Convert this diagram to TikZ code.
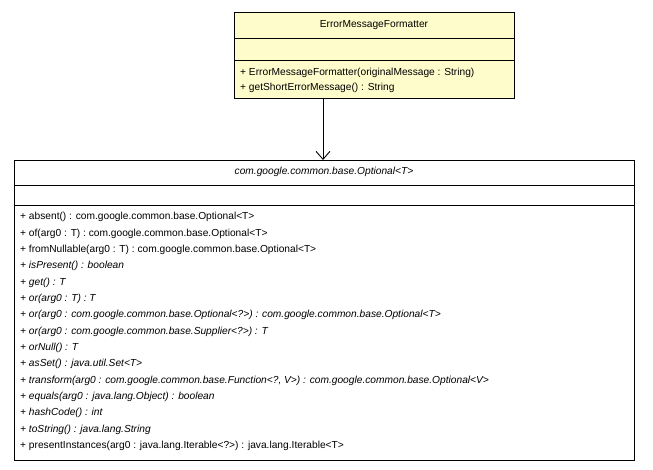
\documentclass[tikz,border=0pt]{standalone}
\usepackage{fontspec}
\setmainfont{Liberation Sans}
\usetikzlibrary{positioning,arrows.meta}
\tikzset{
  box/.style={draw=black,line width=0.8pt,anchor=north west},
  mline/.style={anchor=west,inner sep=0pt,font=\fontsize{10.2}{12}\selectfont},
  uses/.style={-{Straight Barb[length=8pt,width=14pt]},line width=0.9pt}
}
\begin{document}
\begin{tikzpicture}[x=1pt,y=-1pt]
  \useasboundingbox (0,0) rectangle (653,469);
  % upper class
  \fill[fill=yellow!20!white] (234,12) rectangle (514,98);
  \draw[line width=0.8pt] (234,12) rectangle (514,98);
  \draw[line width=0.8pt] (234,38) -- (514,38) (234,60) -- (514,60);
  \node[mline,anchor=center] (fmt) at (374,25) {ErrorMessageFormatter};
  \node[mline] (f1) at (240,73) {+ ErrorMessageFormatter(originalMessage : String)};
  \node[mline] (f2) at (240,88) {+ getShortErrorMessage() : String};
  \coordinate (fmtbot) at (323,98);
  % lower class
  \fill[white] (14,160) rectangle (634,460);
  \draw[line width=0.8pt] (14,160) rectangle (634,460);
  \draw[line width=0.8pt] (14,185) -- (634,185) (14,205) -- (634,205);
  \node[mline,anchor=center] (opt) at (324,172) {\itshape com.google.common.base.Optional<T>};
  \coordinate (opttop) at (323,160);
  \foreach \t [count=\i] in {
    {+ absent() : com.google.common.base.Optional<T>},
    {+ of(arg0 : T) : com.google.common.base.Optional<T>},
    {+ fromNullable(arg0 : T) : com.google.common.base.Optional<T>},
    {\itshape + isPresent() : boolean},
    {\itshape + get() : T},
    {\itshape + or(arg0 : T) : T},
    {\itshape + or(arg0 : com.google.common.base.Optional<?>) : com.google.common.base.Optional<T>},
    {\itshape + or(arg0 : com.google.common.base.Supplier<?>) : T},
    {\itshape + orNull() : T},
    {\itshape + asSet() : java.util.Set<T>},
    {\itshape + transform(arg0 : com.google.common.base.Function<?, V>) : com.google.common.base.Optional<V>},
    {\itshape + equals(arg0 : java.lang.Object) : boolean},
    {\itshape + hashCode() : int},
    {\itshape + toString() : java.lang.String},
    {+ presentInstances(arg0 : java.lang.Iterable<?>) : java.lang.Iterable<T>}}
    \node[mline] (m\i) at (20,{217+16.36*(\i-1)}) {\t};
  \draw[uses] (fmtbot) -- (opttop);
\end{tikzpicture}
\end{document}
